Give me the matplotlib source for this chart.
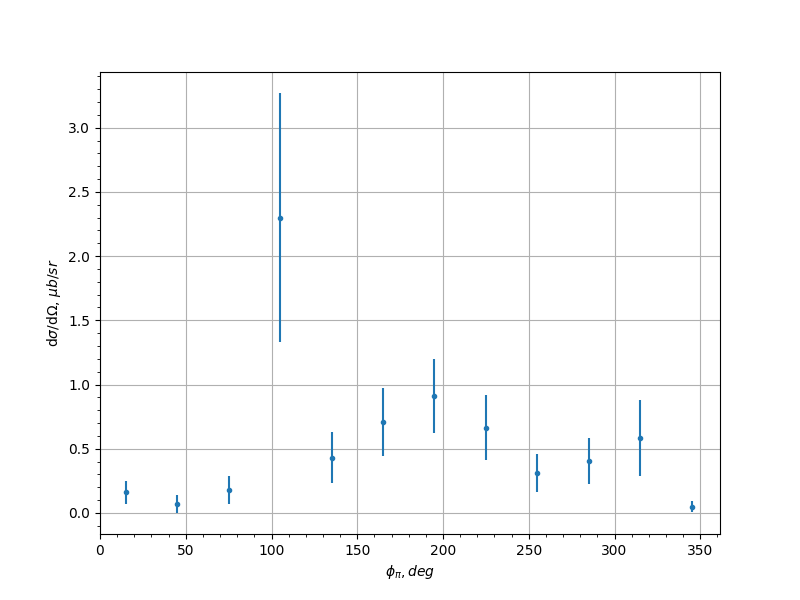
import matplotlib
matplotlib.use('Agg')
import matplotlib.pyplot as plt

phi = [15, 45, 75, 105, 135, 165, 195, 225, 255, 285, 315, 345]
xsec = [0.16, 0.07, 0.18, 2.30, 0.43, 0.71, 0.91, 0.665, 0.31, 0.405, 0.585, 0.05]
xsec_err = [0.09, 0.07, 0.11, 0.97, 0.20, 0.265, 0.29, 0.255, 0.15, 0.18, 0.295, 0.045]


def main():
    fig, ax = plt.subplots(figsize=(8, 6), dpi=100)
    ax.errorbar(phi, xsec, yerr=xsec_err, fmt='o', markersize=3)
    ax.set_xlim(left=0)
    ax.minorticks_on()
    ax.grid(which='major')
    ax.set_xlabel(r'$\phi_\pi, deg$')
    ax.set_ylabel(r'd$\sigma$/d$\Omega$, $\mu b/sr$')
    fig.savefig('out.png')


if __name__ == '__main__':
    main()
